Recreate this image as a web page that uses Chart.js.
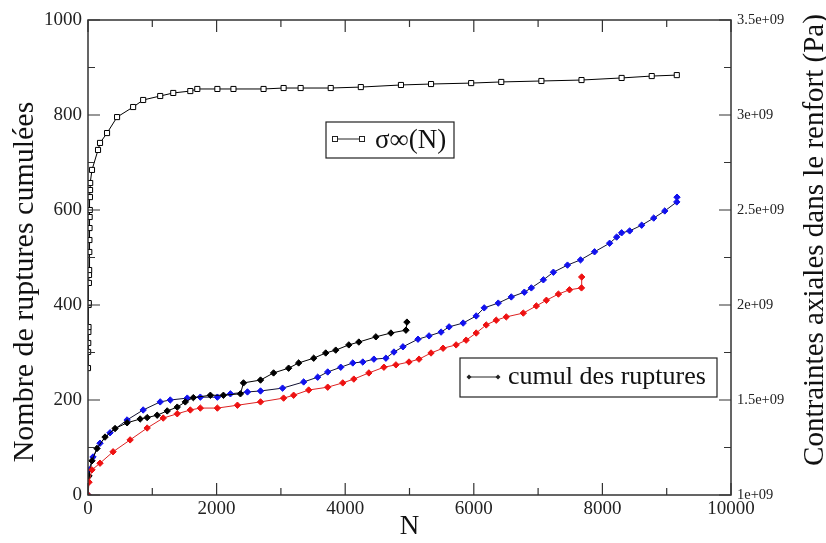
<!DOCTYPE html>
<html>
<head>
<meta charset="utf-8">
<script src="https://cdn.jsdelivr.net/npm/chart.js@4.4.1/dist/chart.umd.min.js"></script>
<style>
	body { margin: 0; background: #fff; }
	canvas { display: block; }
</style>
</head>
<body>
<canvas id="ruptureChart" width="826" height="543"></canvas>
<script>
// Values
// Cumulated ruptures vs N (left axis)
const blackN     = [0, 16, 62, 140, 265, 421, 608, 811, 920, 1076, 1232, 1388, 1513, 1638, 1903, 2106, 2371, 2418, 2683, 2886, 3120, 3276, 3510, 3697, 3853, 4056, 4212, 4477, 4711, 4945, 4960];
const blackCount = [0, 40, 72, 98, 122, 140, 152, 160, 163, 168, 177, 185, 196, 205, 210, 210, 213, 236, 242, 257, 267, 278, 288, 299, 305, 316, 322, 333, 341, 347, 364];

const blueN     = [0, 16, 78, 187, 343, 608, 858, 1123, 1279, 1544, 1747, 2012, 2215, 2480, 2683, 3026, 3354, 3572, 3728, 3931, 4118, 4274, 4446, 4633, 4758, 4898, 5132, 5304, 5491, 5616, 5834, 6037, 6162, 6380, 6583, 6786, 6895, 7082, 7238, 7457, 7660, 7878, 8112, 8221, 8299, 8424, 8611, 8798, 8970, 9157, 9160];
const blueCount = [0, 53, 80, 109, 131, 158, 179, 196, 200, 204, 206, 206, 213, 217, 219, 225, 238, 248, 259, 269, 278, 280, 286, 288, 301, 312, 328, 335, 343, 354, 362, 377, 394, 404, 417, 427, 436, 453, 469, 484, 495, 512, 530, 543, 552, 556, 568, 583, 598, 617, 627];

const redN     = [0, 16, 62, 187, 390, 655, 920, 1170, 1388, 1591, 1747, 2012, 2324, 2683, 3042, 3198, 3432, 3728, 3962, 4134, 4368, 4602, 4789, 4992, 5148, 5335, 5522, 5725, 5881, 6037, 6193, 6349, 6505, 6770, 6973, 7129, 7316, 7488, 7675, 7678];
const redCount = [0, 27, 53, 67, 91, 116, 141, 162, 171, 179, 183, 183, 189, 196, 204, 210, 221, 227, 236, 244, 257, 269, 274, 280, 286, 299, 309, 316, 326, 341, 358, 368, 375, 383, 398, 410, 423, 432, 436, 459];

// Axial stress sigma_inf(N) (right axis, Pa)
const sigmaN  = [0, 2, 4, 6, 8, 10, 12, 14, 16, 18, 20, 22, 24, 26, 28, 30, 32, 34, 62, 156, 187, 296, 452, 702, 858, 1123, 1326, 1591, 1700, 2012, 2262, 2730, 3042, 3307, 3775, 4243, 4867, 5335, 5959, 6427, 7051, 7675, 8299, 8767, 9157];
const sigmaPa = [1.668e9, 1.753e9, 1.800e9, 1.858e9, 1.884e9, 2.000e9, 2.010e9, 2.116e9, 2.158e9, 2.184e9, 2.279e9, 2.342e9, 2.405e9, 2.463e9, 2.500e9, 2.568e9, 2.605e9, 2.642e9, 2.711e9, 2.816e9, 2.853e9, 2.905e9, 2.989e9, 3.042e9, 3.079e9, 3.100e9, 3.116e9, 3.126e9, 3.137e9, 3.137e9, 3.137e9, 3.137e9, 3.142e9, 3.142e9, 3.142e9, 3.147e9, 3.158e9, 3.163e9, 3.168e9, 3.174e9, 3.179e9, 3.184e9, 3.195e9, 3.205e9, 3.210e9];

const serif = 'Liberation Serif';

function pairs(xs, ys) {
	return xs.map((x, i) => ({ x: x, y: ys[i] }));
}

function cumulSet(xs, ys, color, lineColor) {
	return {
		data: pairs(xs, ys),
		yAxisID: 'y',
		borderColor: lineColor,
		borderWidth: 1,
		pointStyle: 'rectRot',
		pointRadius: 3.2,
		pointBackgroundColor: color,
		pointBorderColor: color,
		pointBorderWidth: 1,
		tension: 0,
	};
}

// Frame, inward ticks, legend boxes and the two vertical titles (xmgrace look)
const gracePlugin = {
	id: 'grace',
	afterDraw(chart) {
		const ctx = chart.ctx;
		const a = chart.chartArea;
		const sx = chart.scales.x, sy = chart.scales.y, sr = chart.scales.y2;

		ctx.save();
		ctx.strokeStyle = '#333';
		ctx.lineWidth = 1.5;
		ctx.strokeRect(a.left, a.top, a.right - a.left, a.bottom - a.top);

		ctx.lineWidth = 1.2;
		ctx.beginPath();
		for (let v = 0; v <= 10000; v += 1000) {
			let px = sx.getPixelForValue(v);
			let len = v % 2000 === 0 ? 12 : 7;
			ctx.moveTo(px, a.bottom); ctx.lineTo(px, a.bottom - len);
			ctx.moveTo(px, a.top); ctx.lineTo(px, a.top + len);
		}
		for (let v = 0; v <= 1000; v += 100) {
			let py = sy.getPixelForValue(v);
			let len = v % 200 === 0 ? 12 : 7;
			ctx.moveTo(a.left, py); ctx.lineTo(a.left + len, py);
		}
		for (let v = 1e9; v <= 3.5e9; v += 0.25e9) {
			let py = sr.getPixelForValue(v);
			let len = Math.round(v / 0.25e9) % 2 === 0 ? 12 : 7;
			ctx.moveTo(a.right, py); ctx.lineTo(a.right - len, py);
		}
		ctx.stroke();

		// legend boxes
		ctx.fillStyle = '#fff';
		ctx.strokeStyle = '#222';
		ctx.lineWidth = 1.2;
		ctx.fillRect(326, 122, 128, 36);
		ctx.strokeRect(326, 122, 128, 36);
		ctx.fillRect(460, 358, 257, 39);
		ctx.strokeRect(460, 358, 257, 39);

		ctx.beginPath();
		ctx.lineWidth = 1;
		ctx.moveTo(335, 139); ctx.lineTo(362, 139);
		ctx.moveTo(469, 377); ctx.lineTo(498, 377);
		ctx.stroke();
		[335, 362].forEach(x => {
			ctx.fillStyle = '#fff';
			ctx.fillRect(x - 2.5, 136.5, 5, 5);
			ctx.strokeRect(x - 2.5, 136.5, 5, 5);
		});
		ctx.fillStyle = '#222';
		[469, 498].forEach(x => {
			ctx.beginPath();
			ctx.moveTo(x, 374.5); ctx.lineTo(x + 2.5, 377); ctx.lineTo(x, 379.5); ctx.lineTo(x - 2.5, 377);
			ctx.closePath();
			ctx.fill();
		});

		ctx.fillStyle = '#111';
		ctx.textBaseline = 'middle';
		ctx.textAlign = 'left';
		ctx.font = '27px "' + serif + '"';
		ctx.fillText('σ∞(N)', 375, 141);
		ctx.font = '26px "' + serif + '"';
		ctx.fillText('cumul des ruptures', 508, 377);

		// vertical titles, both reading bottom to top
		ctx.textAlign = 'center';
		ctx.font = '30px "' + serif + '"';
		ctx.save();
		ctx.translate(25, 282);
		ctx.rotate(-Math.PI / 2);
		ctx.fillText('Nombre de ruptures cumulées', 0, 0);
		ctx.restore();

		ctx.font = '29px "' + serif + '"';
		ctx.translate(815, 240);
		ctx.rotate(-Math.PI / 2);
		ctx.fillText('Contraintes axiales dans le renfort (Pa)', 0, 0);
		ctx.restore();
	}
};

const chart = new Chart(document.getElementById('ruptureChart'), {
	type: 'line',
	data: {
		datasets: [
			cumulSet(redN, redCount, '#ee1111', '#dd2222'),
			cumulSet(blackN, blackCount, '#000000', '#000000'),
			cumulSet(blueN, blueCount, '#1111ee', '#111133'),
			{
				data: pairs(sigmaN, sigmaPa),
				yAxisID: 'y2',
				borderColor: '#000',
				borderWidth: 1,
				pointStyle: 'rect',
				pointRadius: 3.6,
				pointBackgroundColor: '#fff',
				pointBorderColor: '#000',
				pointBorderWidth: 1,
				tension: 0,
			},
		],
	},
	options: {
		responsive: false,
		animation: false,
		layout: { padding: { top: 20, left: 0, right: 0, bottom: 0 } },
		plugins: {
			legend: { display: false },
			tooltip: { enabled: false },
		},
		scales: {
			x: {
				type: 'linear',
				min: 0,
				max: 10000,
				grid: { display: false, drawTicks: false },
				border: { display: false },
				ticks: {
					stepSize: 2000,
					maxRotation: 0,
					padding: 3,
					color: '#222',
					font: { family: serif, size: 19 },
					callback: v => String(v),
				},
				title: {
					display: true,
					text: 'N',
					color: '#111',
					padding: { top: 2, bottom: 0 },
					font: { family: serif, size: 27 },
				},
				afterFit: s => { s.height = 48; },
			},
			y: {
				position: 'left',
				min: 0,
				max: 1000,
				grid: { display: false, drawTicks: false },
				border: { display: false },
				ticks: {
					stepSize: 200,
					padding: 6,
					color: '#222',
					font: { family: serif, size: 19 },
					callback: v => String(v),
				},
				afterFit: s => { s.width = 88; },
			},
			y2: {
				position: 'right',
				min: 1e9,
				max: 3.5e9,
				grid: { display: false, drawTicks: false },
				border: { display: false },
				ticks: {
					stepSize: 0.5e9,
					padding: 6,
					color: '#222',
					font: { family: serif, size: 14.5 },
					callback: v => (v / 1e9) + 'e+09',
				},
				afterFit: s => { s.width = 95; },
			},
		},
	},
	plugins: [gracePlugin],
});
</script>
</body>
</html>
